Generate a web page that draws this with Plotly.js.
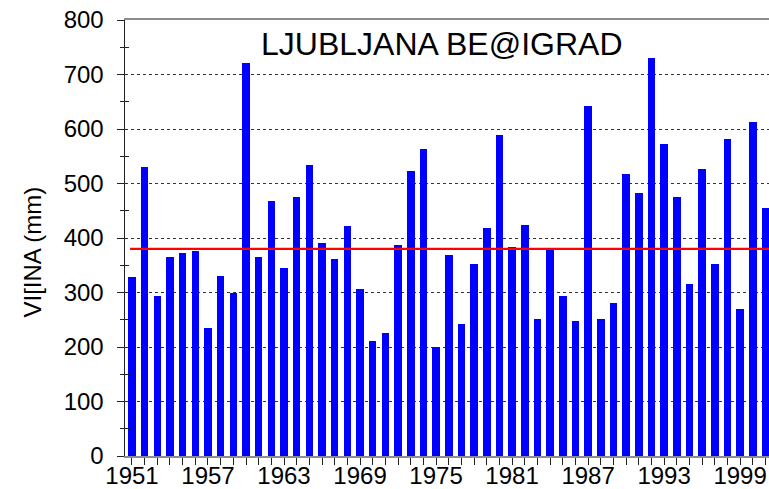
<!DOCTYPE html>
<html>
<head>
<meta charset="utf-8">
<script src="https://cdn.plot.ly/plotly-3.0.1.min.js"></script>
<style>
html,body{margin:0;padding:0;overflow:hidden;background:#fff;}
#chart{width:769px;height:489px;}
</style>
</head>
<body>
<div id="chart"></div>
<script>
const years = [];
for (let y = 1951; y <= 2001; y++) years.push(y);

const precipitation = [
  328, 530, 294, 365, 372, 376, 234, 330, 300, 721,
  365, 467, 345, 475, 534, 390, 362, 422, 306, 211,
  226, 387, 523, 563, 200, 369, 242, 352, 418, 589,
  384, 424, 251, 379, 294, 248, 642, 251, 281, 517,
  483, 730, 573, 475, 316, 527, 352, 582, 270, 613,
  455
];

const meanValue = 380;
const meanYears = [1950.85, 2001.3];

const tickYears = [1951, 1957, 1963, 1969, 1975, 1981, 1987, 1993, 1999];
const yTicks = [0, 100, 200, 300, 400, 500, 600, 700, 800];

const titleText = 'LJUBLJANA BE@IGRAD';
const yTitleText = 'VI[INA (mm)';

const FONT = 'Liberation Sans, Arial, sans-serif';

const minorY = yTicks.slice(0, -1).map(v => v + 50);

const traces = [
  {
    type: 'bar',
    x: years,
    y: precipitation,
    width: 0.6,
    marker: {color: '#0000ff', line: {width: 0}},
    hoverinfo: 'x+y'
  },
  {
    type: 'scatter',
    mode: 'lines',
    x: meanYears,
    y: [meanValue, meanValue],
    line: {color: '#ff0000', width: 2.3},
    hoverinfo: 'y'
  },
  {
    type: 'scatter',
    mode: 'lines',
    x: [years[0]],
    y: [0],
    yaxis: 'y2',
    showlegend: false,
    hoverinfo: 'skip',
    line: {width: 0}
  }
];

const layout = {
  width: 769,
  height: 489,
  margin: {l: 125, r: 0, t: 20, b: 33, pad: 0},
  paper_bgcolor: '#ffffff',
  plot_bgcolor: '#ffffff',
  showlegend: false,
  bargap: 0,
  font: {family: FONT, size: 24, color: '#000'},
  xaxis: {
    range: [1950.45, 2001.28],
    tickmode: 'array',
    tickvals: tickYears,
    ticktext: tickYears.map(String),
    ticks: 'outside',
    ticklen: 7,
    tickwidth: 1,
    tickcolor: '#222',
    minor: {dtick: 1, tick0: 1951, ticks: 'outside', ticklen: 7, tickwidth: 1, tickcolor: '#222', showgrid: false},
    showgrid: false,
    zeroline: false,
    showline: true,
    linecolor: '#8c8c8c',
    linewidth: 2,
    mirror: true,
    ticklabelstandoff: -10,
    tickfont: {family: FONT, size: 24, color: '#000'},
    fixedrange: true
  },
  yaxis: {
    range: [0, 800],
    tickmode: 'array',
    tickvals: yTicks,
    ticktext: yTicks.map(String),
    ticks: 'outside',
    ticklen: 7,
    tickwidth: 1,
    tickcolor: '#222',
    minor: {tickvals: minorY, ticks: 'outside', ticklen: 3.5, tickwidth: 1, tickcolor: '#222', showgrid: false},
    showgrid: true,
    gridcolor: '#333',
    griddash: 'dot',
    gridwidth: 1,
    zeroline: false,
    showline: true,
    linecolor: '#222',
    linewidth: 1.5,
    ticklabelstandoff: 8,
    tickfont: {family: FONT, size: 24, color: '#000'},
    fixedrange: true
  },
  yaxis2: {
    overlaying: 'y',
    side: 'left',
    range: [0, 800],
    tickmode: 'array',
    tickvals: minorY,
    ticks: 'inside',
    ticklen: 3.5,
    tickwidth: 1,
    tickcolor: '#222',
    showticklabels: false,
    showgrid: false,
    zeroline: false,
    showline: false,
    fixedrange: true
  },
  annotations: [
    {
      text: titleText,
      xref: 'paper', yref: 'paper',
      x: 0.4915, y: 0.945,
      xanchor: 'center', yanchor: 'middle',
      showarrow: false,
      font: {family: FONT, size: 32, color: '#000'}
    },
    {
      text: yTitleText,
      xref: 'paper', yref: 'paper',
      x: -0.1429, y: 0.469,
      xanchor: 'center', yanchor: 'middle',
      textangle: -90,
      showarrow: false,
      font: {family: FONT, size: 24, color: '#000'}
    }
  ]
};

Plotly.newPlot('chart', traces, layout, {displayModeBar: false, staticPlot: true});
</script>
</body>
</html>
